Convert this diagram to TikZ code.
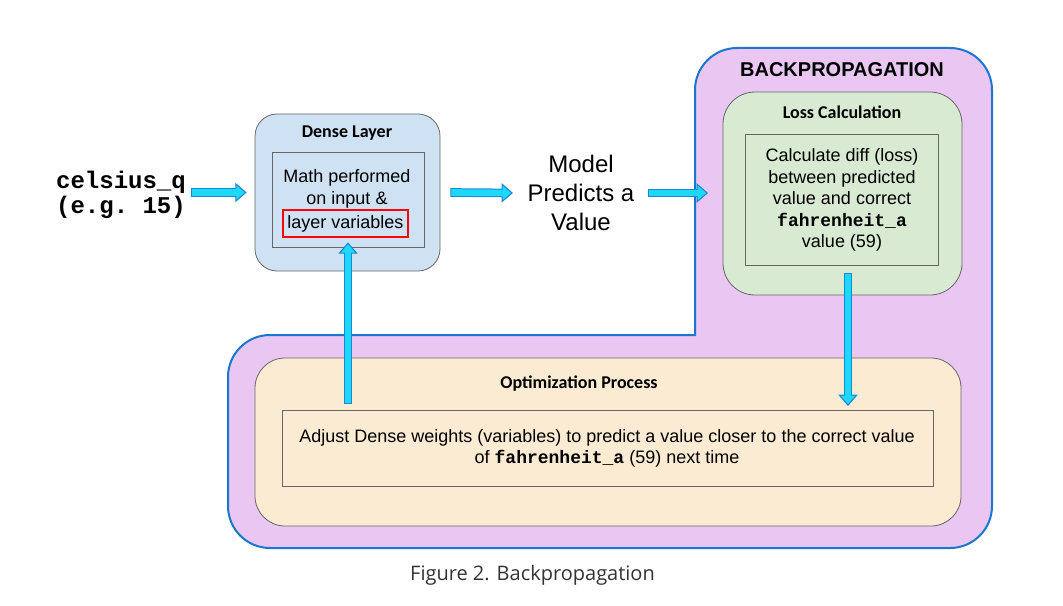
\documentclass[tikz,border=0pt]{standalone}
\usepackage{fontspec}
\setmainfont{Liberation Sans}
\setmonofont{Liberation Mono}
\newfontfamily\titlefont{Carlito}
\newfontfamily\capfont{Open Sans}
\usetikzlibrary{arrows.meta}
\definecolor{bpfill}{HTML}{E9C7F2}
\definecolor{bpline}{HTML}{1A76CF}
\definecolor{densefill}{HTML}{CFE2F3}
\definecolor{lossfill}{HTML}{D9EAD3}
\definecolor{optfill}{HTML}{FCEBD3}
\definecolor{boxline}{HTML}{666666}
\definecolor{arrowcyan}{HTML}{1ED8FA}
\definecolor{arrowblue}{HTML}{1C86DA}
\definecolor{captext}{HTML}{333333}
\begin{document}
\begin{tikzpicture}[x=0.75pt,y=-0.75pt,
  outerbox/.style={draw=boxline,line width=0.6pt,rounded corners=#1,inner sep=0pt},
  innerbox/.style={draw=boxline,line width=0.6pt,inner sep=0pt},
  boxtitle/.style={font=\titlefont\bfseries\fontsize{13.5}{16}\selectfont},
  body/.style={align=center,font=\fontsize{13.5}{16.1}\selectfont},
  flow/.style={draw=arrowblue,line width=6.5pt,
    -{Triangle[length=8.5pt,width=14.5pt,line width=0.8pt,fill=arrowcyan]},
    postaction={draw=arrowcyan,line width=5pt,-,shorten <=0.8pt,shorten >=7.5pt}}]
\useasboundingbox (0,0) rectangle (1063,606);
% backpropagation area
\draw[bpline,line width=1.5pt,fill=bpfill] (695,335) -- (695,90) arc[start angle=180,end angle=270,radius=42]
  -- (950,48) arc[start angle=270,end angle=360,radius=42] -- (992,506) arc[start angle=0,end angle=90,radius=42]
  -- (270,548) arc[start angle=90,end angle=180,radius=42] -- (228,377) arc[start angle=180,end angle=270,radius=42] -- cycle;
\node[font=\bfseries\fontsize{15}{18}\selectfont] (bptitle) at (842,70) {BACKPROPAGATION};
% input
\node[align=center,font=\ttfamily\bfseries\fontsize{18}{19}\selectfont] (celsius) at (121,195) {celsius\_q\\(e.g. 15)};
% dense layer
\node[outerbox=16.5pt,fill=densefill,minimum width=138.75pt,minimum height=117.75pt] (dense) at (347.5,192.5) {};
\node[boxtitle] (densetitle) at (347,133) {Dense Layer};
\node[innerbox,minimum width=114pt,minimum height=71.25pt] (densein) at (348,199.5) {};
\node[body] (mathtxt) at (347,189) {Math performed\\on input \&};
\node[body,draw=red,line width=0.8pt,minimum width=93.75pt,minimum height=20.25pt,inner sep=0pt] (vars) at (345.5,223.5) {layer variables};
% prediction
\node[align=center,font=\fontsize{18}{21.75}\selectfont] (predict) at (581,193) {Model\\Predicts a\\Value};
\coordinate (bpin) at (708,193);
% loss
\node[outerbox=24pt,fill=lossfill,minimum width=179.25pt,minimum height=152.25pt] (loss) at (842.5,193.5) {};
\node[boxtitle] (losstitle) at (842,112) {Loss Calculation};
\node[innerbox,minimum width=144.4pt,minimum height=98.25pt] (lossin) at (842,199.5) {};
\node[body] (losstxt) at (842,200) {Calculate diff (loss)\\between predicted\\value and correct\\\texttt{\textbf{fahrenheit\_a}}\\value (59)};
% optimization
\node[outerbox=22.5pt,fill=optfill,minimum width=529.5pt,minimum height=126pt] (opt) at (608,442) {};
\node[boxtitle] (opttitle) at (579,384) {Optimization Process};
\node[innerbox,minimum width=488.25pt,minimum height=57pt] (optin) at (607.5,448) {};
\node[body] (opttxt) at (607,448.5) {Adjust Dense weights (variables) to predict a value closer to the correct value\\of \texttt{\textbf{fahrenheit\_a}} (59) next time};
\coordinate (upstart) at (348,404);
\coordinate (downend) at (848,406);
% caption
\node[font=\capfont\fontsize{15}{18}\selectfont,text=captext] (caption) at (532.5,575) {Figure 2. Backpropagation};
% arrows
\draw[flow] (celsius.east |- dense.west) -- ([xshift=-6pt]dense.west);
\draw[flow] ([xshift=7.5pt]dense.east) -- ([xshift=-7.5pt]predict.west);
\draw[flow] ([xshift=6.5pt]predict.east) -- (bpin);
\draw[flow] ([xshift=4.5pt,yshift=-6pt]lossin.south) -- (downend);
\draw[flow] (upstart) -- ([yshift=3.75pt]densein.south);
\end{tikzpicture}
\end{document}
